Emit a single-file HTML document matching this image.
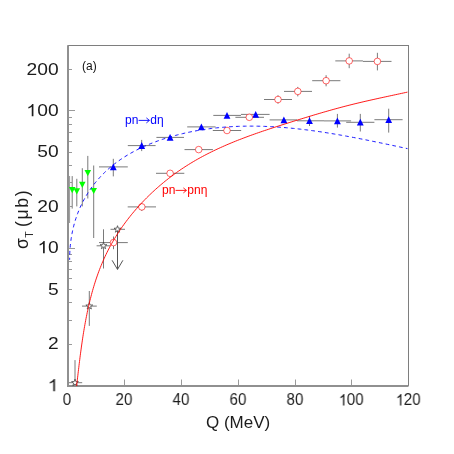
<!DOCTYPE html>
<html><head><meta charset="utf-8"><title>plot</title>
<style>
html,body{margin:0;padding:0;background:#fff;}
body{width:454px;height:454px;position:relative;overflow:hidden;font-family:"Liberation Sans",sans-serif;}
.yl{position:absolute;left:0;width:58.6px;height:20px;line-height:20px;text-align:right;font-size:17px;color:#1c1c1c;white-space:nowrap;transform:scaleX(1.13);transform-origin:100% 50%;will-change:transform;}
.xl{position:absolute;top:392.0px;width:60px;height:16px;line-height:16px;text-align:center;font-size:16px;color:#1c1c1c;white-space:nowrap;transform:scaleX(0.94);will-change:transform;}
.one{display:inline-block;width:0.556em;height:0.719em;vertical-align:baseline;overflow:visible;}
.lab{position:absolute;white-space:nowrap;line-height:1;will-change:transform;}
</style></head><body>
<svg width="454" height="454" viewBox="0 0 454 454" style="position:absolute;left:0;top:0">
<rect width="454" height="454" fill="#fff"/>
<line x1="68.50" y1="385.50" x2="75.00" y2="385.50" stroke="#9a9a9a" stroke-width="1"/>
<line x1="68.50" y1="344.50" x2="72.00" y2="344.50" stroke="#9a9a9a" stroke-width="1"/>
<line x1="68.50" y1="320.50" x2="72.00" y2="320.50" stroke="#9a9a9a" stroke-width="1"/>
<line x1="68.50" y1="302.50" x2="72.00" y2="302.50" stroke="#9a9a9a" stroke-width="1"/>
<line x1="68.50" y1="289.50" x2="72.00" y2="289.50" stroke="#9a9a9a" stroke-width="1"/>
<line x1="68.50" y1="278.50" x2="72.00" y2="278.50" stroke="#9a9a9a" stroke-width="1"/>
<line x1="68.50" y1="269.50" x2="72.00" y2="269.50" stroke="#9a9a9a" stroke-width="1"/>
<line x1="68.50" y1="261.50" x2="72.00" y2="261.50" stroke="#9a9a9a" stroke-width="1"/>
<line x1="68.50" y1="254.50" x2="72.00" y2="254.50" stroke="#9a9a9a" stroke-width="1"/>
<line x1="68.50" y1="248.50" x2="75.00" y2="248.50" stroke="#9a9a9a" stroke-width="1"/>
<line x1="68.50" y1="206.50" x2="72.00" y2="206.50" stroke="#9a9a9a" stroke-width="1"/>
<line x1="68.50" y1="182.50" x2="72.00" y2="182.50" stroke="#9a9a9a" stroke-width="1"/>
<line x1="68.50" y1="165.50" x2="72.00" y2="165.50" stroke="#9a9a9a" stroke-width="1"/>
<line x1="68.50" y1="152.50" x2="72.00" y2="152.50" stroke="#9a9a9a" stroke-width="1"/>
<line x1="68.50" y1="141.50" x2="72.00" y2="141.50" stroke="#9a9a9a" stroke-width="1"/>
<line x1="68.50" y1="132.50" x2="72.00" y2="132.50" stroke="#9a9a9a" stroke-width="1"/>
<line x1="68.50" y1="124.50" x2="72.00" y2="124.50" stroke="#9a9a9a" stroke-width="1"/>
<line x1="68.50" y1="117.50" x2="72.00" y2="117.50" stroke="#9a9a9a" stroke-width="1"/>
<line x1="68.50" y1="110.50" x2="75.00" y2="110.50" stroke="#9a9a9a" stroke-width="1"/>
<line x1="68.50" y1="69.50" x2="72.00" y2="69.50" stroke="#9a9a9a" stroke-width="1"/>
<line x1="67.50" y1="379.50" x2="67.50" y2="385.50" stroke="#9a9a9a" stroke-width="1"/>
<line x1="124.50" y1="379.50" x2="124.50" y2="385.50" stroke="#9a9a9a" stroke-width="1"/>
<line x1="181.50" y1="379.50" x2="181.50" y2="385.50" stroke="#9a9a9a" stroke-width="1"/>
<line x1="238.50" y1="379.50" x2="238.50" y2="385.50" stroke="#9a9a9a" stroke-width="1"/>
<line x1="295.50" y1="379.50" x2="295.50" y2="385.50" stroke="#9a9a9a" stroke-width="1"/>
<line x1="351.50" y1="379.50" x2="351.50" y2="385.50" stroke="#9a9a9a" stroke-width="1"/>
<line x1="408.50" y1="379.50" x2="408.50" y2="385.50" stroke="#9a9a9a" stroke-width="1"/>
<rect x="68.0" y="45.5" width="340.5" height="340.0" fill="none" stroke="#7e7e7e" stroke-width="1"/>
<line x1="68.00" y1="45.50" x2="68.00" y2="386.50" stroke="#909090" stroke-width="2"/>
<line x1="67.00" y1="386.00" x2="408.50" y2="386.00" stroke="#909090" stroke-width="2"/>
<line x1="69.50" y1="176.00" x2="69.50" y2="223.00" stroke="#a0a0a0" stroke-width="1.2"/>
<line x1="72.20" y1="176.10" x2="72.20" y2="208.60" stroke="#7a7a7a" stroke-width="1"/>
<line x1="76.80" y1="178.80" x2="76.80" y2="206.40" stroke="#7a7a7a" stroke-width="1"/>
<line x1="82.30" y1="168.20" x2="82.30" y2="206.40" stroke="#7a7a7a" stroke-width="1"/>
<line x1="87.80" y1="155.90" x2="87.80" y2="198.50" stroke="#7a7a7a" stroke-width="1"/>
<line x1="93.70" y1="165.50" x2="93.70" y2="238.00" stroke="#7a7a7a" stroke-width="1"/>
<line x1="99.00" y1="166.90" x2="127.80" y2="166.90" stroke="#7a7a7a" stroke-width="1"/>
<line x1="113.30" y1="158.80" x2="113.30" y2="176.40" stroke="#7a7a7a" stroke-width="1"/>
<line x1="127.80" y1="145.60" x2="155.60" y2="145.60" stroke="#7a7a7a" stroke-width="1"/>
<line x1="141.70" y1="139.90" x2="141.70" y2="151.10" stroke="#7a7a7a" stroke-width="1"/>
<line x1="156.40" y1="137.40" x2="184.00" y2="137.40" stroke="#7a7a7a" stroke-width="1"/>
<line x1="187.20" y1="126.90" x2="215.60" y2="126.90" stroke="#7a7a7a" stroke-width="1"/>
<line x1="213.30" y1="115.40" x2="241.00" y2="115.40" stroke="#7a7a7a" stroke-width="1"/>
<line x1="241.00" y1="114.40" x2="269.60" y2="114.40" stroke="#7a7a7a" stroke-width="1"/>
<line x1="269.60" y1="119.90" x2="297.00" y2="119.90" stroke="#7a7a7a" stroke-width="1"/>
<line x1="297.00" y1="120.80" x2="324.00" y2="120.80" stroke="#7a7a7a" stroke-width="1"/>
<line x1="309.50" y1="116.00" x2="309.50" y2="126.00" stroke="#7a7a7a" stroke-width="1"/>
<line x1="324.00" y1="120.90" x2="351.10" y2="120.90" stroke="#7a7a7a" stroke-width="1"/>
<line x1="337.40" y1="113.90" x2="337.40" y2="127.60" stroke="#7a7a7a" stroke-width="1"/>
<line x1="346.20" y1="122.30" x2="374.40" y2="122.30" stroke="#7a7a7a" stroke-width="1"/>
<line x1="360.30" y1="113.90" x2="360.30" y2="131.50" stroke="#7a7a7a" stroke-width="1"/>
<line x1="374.40" y1="119.70" x2="402.60" y2="119.70" stroke="#7a7a7a" stroke-width="1"/>
<line x1="388.70" y1="108.70" x2="388.70" y2="132.60" stroke="#7a7a7a" stroke-width="1"/>
<line x1="99.00" y1="242.60" x2="127.80" y2="242.60" stroke="#7a7a7a" stroke-width="1"/>
<line x1="113.50" y1="236.50" x2="113.50" y2="249.20" stroke="#7a7a7a" stroke-width="1"/>
<line x1="127.70" y1="206.90" x2="156.00" y2="206.90" stroke="#7a7a7a" stroke-width="1"/>
<line x1="141.80" y1="203.00" x2="141.80" y2="211.00" stroke="#7a7a7a" stroke-width="1"/>
<line x1="156.00" y1="173.30" x2="184.30" y2="173.30" stroke="#7a7a7a" stroke-width="1"/>
<line x1="184.50" y1="149.60" x2="212.90" y2="149.60" stroke="#7a7a7a" stroke-width="1"/>
<line x1="212.80" y1="130.50" x2="241.20" y2="130.50" stroke="#7a7a7a" stroke-width="1"/>
<line x1="235.40" y1="117.30" x2="264.00" y2="117.30" stroke="#7a7a7a" stroke-width="1"/>
<line x1="264.00" y1="99.50" x2="292.00" y2="99.50" stroke="#7a7a7a" stroke-width="1"/>
<line x1="278.00" y1="95.30" x2="278.00" y2="103.70" stroke="#7a7a7a" stroke-width="1"/>
<line x1="284.00" y1="91.40" x2="312.00" y2="91.40" stroke="#7a7a7a" stroke-width="1"/>
<line x1="297.80" y1="86.90" x2="297.80" y2="96.40" stroke="#7a7a7a" stroke-width="1"/>
<line x1="312.20" y1="80.70" x2="340.40" y2="80.70" stroke="#7a7a7a" stroke-width="1"/>
<line x1="326.10" y1="75.20" x2="326.10" y2="86.30" stroke="#7a7a7a" stroke-width="1"/>
<line x1="335.30" y1="60.90" x2="362.90" y2="60.90" stroke="#7a7a7a" stroke-width="1"/>
<line x1="349.20" y1="53.70" x2="349.20" y2="68.20" stroke="#7a7a7a" stroke-width="1"/>
<line x1="362.90" y1="61.40" x2="391.50" y2="61.40" stroke="#7a7a7a" stroke-width="1"/>
<line x1="377.40" y1="52.80" x2="377.40" y2="70.40" stroke="#7a7a7a" stroke-width="1"/>
<line x1="68.80" y1="382.70" x2="82.20" y2="382.70" stroke="#7a7a7a" stroke-width="1"/>
<line x1="75.00" y1="360.10" x2="75.00" y2="385.50" stroke="#7a7a7a" stroke-width="1"/>
<line x1="82.00" y1="306.10" x2="96.80" y2="306.10" stroke="#7a7a7a" stroke-width="1"/>
<line x1="89.30" y1="291.00" x2="89.30" y2="325.90" stroke="#7a7a7a" stroke-width="1"/>
<line x1="96.60" y1="245.80" x2="110.00" y2="245.80" stroke="#7a7a7a" stroke-width="1"/>
<line x1="103.50" y1="229.30" x2="103.50" y2="268.50" stroke="#7a7a7a" stroke-width="1"/>
<line x1="110.50" y1="229.30" x2="125.00" y2="229.30" stroke="#7a7a7a" stroke-width="1"/>
<line x1="117.50" y1="229.30" x2="117.50" y2="269.40" stroke="#555" stroke-width="1"/>
<path d="M112.1,260.3 L117.5,269.4 L122.9,260.3" fill="none" stroke="#555" stroke-width="1"/>
<path d="M68.90,187.00 L75.50,187.00 L72.20,193.20Z" fill="#00ff00"/>
<path d="M73.50,188.20 L80.10,188.20 L76.80,194.40Z" fill="#00ff00"/>
<path d="M79.00,181.70 L85.60,181.70 L82.30,187.90Z" fill="#00ff00"/>
<path d="M84.50,170.00 L91.10,170.00 L87.80,176.20Z" fill="#00ff00"/>
<path d="M90.40,187.90 L97.00,187.90 L93.70,194.10Z" fill="#00ff00"/>
<path d="M109.90,170.20 L116.70,170.20 L113.30,163.40Z" fill="#0000ff"/>
<path d="M138.30,148.90 L145.10,148.90 L141.70,142.10Z" fill="#0000ff"/>
<path d="M166.70,140.70 L173.50,140.70 L170.10,133.90Z" fill="#0000ff"/>
<path d="M198.00,130.20 L204.80,130.20 L201.40,123.40Z" fill="#0000ff"/>
<path d="M223.60,118.70 L230.40,118.70 L227.00,111.90Z" fill="#0000ff"/>
<path d="M252.30,117.70 L259.10,117.70 L255.70,110.90Z" fill="#0000ff"/>
<path d="M280.50,123.20 L287.30,123.20 L283.90,116.40Z" fill="#0000ff"/>
<path d="M306.10,124.10 L312.90,124.10 L309.50,117.30Z" fill="#0000ff"/>
<path d="M334.00,124.20 L340.80,124.20 L337.40,117.40Z" fill="#0000ff"/>
<path d="M356.90,125.60 L363.70,125.60 L360.30,118.80Z" fill="#0000ff"/>
<path d="M385.30,123.00 L392.10,123.00 L388.70,116.20Z" fill="#0000ff"/>
<circle cx="113.50" cy="242.60" r="3.3" fill="#fff" stroke="#ff0000" stroke-width="0.6"/>
<circle cx="141.80" cy="206.90" r="3.3" fill="#fff" stroke="#ff0000" stroke-width="0.6"/>
<circle cx="170.10" cy="173.30" r="3.3" fill="#fff" stroke="#ff0000" stroke-width="0.6"/>
<circle cx="198.70" cy="149.60" r="3.3" fill="#fff" stroke="#ff0000" stroke-width="0.6"/>
<circle cx="227.00" cy="130.50" r="3.3" fill="#fff" stroke="#ff0000" stroke-width="0.6"/>
<circle cx="249.30" cy="117.30" r="3.3" fill="#fff" stroke="#ff0000" stroke-width="0.6"/>
<circle cx="278.00" cy="99.50" r="3.3" fill="#fff" stroke="#ff0000" stroke-width="0.6"/>
<circle cx="297.80" cy="91.40" r="3.3" fill="#fff" stroke="#ff0000" stroke-width="0.6"/>
<circle cx="326.10" cy="80.70" r="3.3" fill="#fff" stroke="#ff0000" stroke-width="0.6"/>
<circle cx="349.20" cy="60.90" r="3.3" fill="#fff" stroke="#ff0000" stroke-width="0.6"/>
<circle cx="377.40" cy="61.40" r="3.3" fill="#fff" stroke="#ff0000" stroke-width="0.6"/>
<path d="M75.00,379.10 L75.82,381.57 L78.42,381.59 L76.33,383.13 L77.12,385.61 L75.00,384.10 L72.88,385.61 L73.67,383.13 L71.58,381.59 L74.18,381.57Z" fill="#fff" stroke="#333" stroke-width="0.7"/>
<path d="M89.30,302.50 L90.12,304.97 L92.72,304.99 L90.63,306.53 L91.42,309.01 L89.30,307.50 L87.18,309.01 L87.97,306.53 L85.88,304.99 L88.48,304.97Z" fill="#fff" stroke="#333" stroke-width="0.7"/>
<path d="M103.50,242.20 L104.32,244.67 L106.92,244.69 L104.83,246.23 L105.62,248.71 L103.50,247.20 L101.38,248.71 L102.17,246.23 L100.08,244.69 L102.68,244.67Z" fill="#fff" stroke="#333" stroke-width="0.7"/>
<path d="M117.50,225.70 L118.32,228.17 L120.92,228.19 L118.83,229.73 L119.62,232.21 L117.50,230.70 L115.38,232.21 L116.17,229.73 L114.08,228.19 L116.68,228.17Z" fill="#fff" stroke="#333" stroke-width="0.7"/>
<path d="M69.65,259.84 L69.66,258.06 L69.68,256.28 L69.73,254.51 L69.80,252.74 L69.90,250.97 L70.01,249.21 L70.15,247.45 L70.30,245.70 L70.48,243.96 L70.68,242.21 L70.91,240.48 L71.15,238.75 L71.42,237.02 L71.71,235.31 L72.02,233.60 L72.35,231.89 L72.71,230.20 L73.09,228.51 L73.50,226.83 L73.92,225.15 L74.37,223.49 L74.85,221.83 L75.34,220.19 L75.86,218.55 L76.41,216.92 L76.98,215.30 L77.57,213.70 L78.18,212.10 L78.82,210.51 L79.49,208.93 L80.17,207.37 L80.89,205.81 L81.62,204.27 L82.38,202.74 L83.16,201.22 L83.96,199.72 L84.79,198.23 L85.64,196.75 L86.51,195.28 L87.40,193.83 L88.31,192.39 L89.25,190.97 L90.20,189.56 L91.18,188.16 L92.17,186.78 L93.19,185.42 L94.23,184.07 L95.29,182.73 L96.36,181.42 L97.46,180.12 L98.58,178.83 L99.71,177.56 L100.87,176.31 L102.04,175.08 L103.23,173.87 L104.44,172.67 L105.66,171.49 L106.91,170.33 L108.17,169.19 L109.45,168.07 L110.74,166.96 L112.06,165.88 L113.38,164.81 L114.73,163.76 L116.09,162.73 L117.46,161.71 L118.85,160.72 L120.25,159.74 L121.67,158.78 L123.10,157.83 L124.54,156.90 L126.00,155.99 L127.46,155.10 L128.94,154.22 L130.44,153.36 L131.94,152.52 L133.46,151.69 L134.98,150.88 L136.52,150.08 L138.07,149.30 L139.62,148.54 L141.19,147.79 L142.77,147.05 L144.35,146.33 L145.94,145.63 L147.54,144.94 L149.15,144.27 L150.77,143.61 L152.39,142.96 L154.02,142.33 L155.66,141.72 L157.30,141.11 L158.95,140.52 L160.60,139.95 L162.26,139.39 L163.93,138.84 L165.59,138.31 L167.27,137.79 L168.94,137.28 L170.62,136.79 L172.30,136.30 L173.99,135.83 L175.67,135.38 L177.36,134.93 L179.05,134.50 L180.74,134.08 L182.44,133.68 L184.13,133.28 L185.83,132.90 L187.52,132.52 L189.22,132.16 L190.91,131.81 L192.61,131.48 L194.31,131.15 L196.01,130.83 L197.71,130.53 L199.41,130.24 L201.11,129.95 L202.81,129.68 L204.52,129.42 L206.22,129.17 L207.92,128.93 L209.63,128.70 L211.33,128.49 L213.04,128.28 L214.75,128.08 L216.45,127.89 L218.16,127.72 L219.87,127.55 L221.58,127.39 L223.29,127.24 L225.00,127.10 L226.71,126.97 L228.42,126.85 L230.13,126.74 L231.84,126.64 L233.55,126.55 L235.26,126.47 L236.98,126.40 L238.69,126.33 L240.40,126.28 L242.12,126.23 L243.83,126.19 L245.55,126.16 L247.26,126.14 L248.98,126.13 L250.69,126.12 L252.41,126.13 L254.12,126.14 L255.84,126.16 L257.55,126.18 L259.27,126.22 L260.99,126.26 L262.70,126.31 L264.42,126.37 L266.14,126.44 L267.85,126.51 L269.57,126.59 L271.29,126.68 L273.01,126.77 L274.72,126.87 L276.44,126.98 L278.16,127.10 L279.87,127.22 L281.59,127.35 L283.31,127.48 L285.03,127.62 L286.74,127.77 L288.46,127.92 L290.18,128.08 L291.89,128.25 L293.61,128.42 L295.33,128.60 L297.04,128.78 L298.76,128.97 L300.47,129.16 L302.19,129.37 L303.91,129.57 L305.62,129.78 L307.34,130.00 L309.05,130.22 L310.76,130.45 L312.48,130.68 L314.19,130.91 L315.91,131.15 L317.62,131.40 L319.33,131.65 L321.04,131.90 L322.76,132.16 L324.47,132.43 L326.18,132.69 L327.89,132.96 L329.60,133.24 L331.31,133.52 L333.02,133.80 L334.73,134.09 L336.43,134.38 L338.14,134.67 L339.85,134.97 L341.55,135.27 L343.26,135.58 L344.97,135.88 L346.67,136.19 L348.37,136.51 L350.08,136.82 L351.78,137.14 L353.48,137.46 L355.18,137.79 L356.88,138.11 L358.58,138.44 L360.28,138.78 L361.98,139.11 L363.68,139.45 L365.37,139.78 L367.07,140.12 L368.77,140.47 L370.46,140.81 L372.15,141.15 L373.84,141.50 L375.54,141.85 L377.23,142.20 L378.92,142.55 L380.61,142.90 L382.29,143.26 L383.98,143.61 L385.67,143.97 L387.35,144.32 L389.03,144.68 L390.72,145.04 L392.40,145.40 L394.08,145.76 L395.76,146.12 L397.44,146.47 L399.12,146.83 L400.79,147.19 L402.47,147.55 L404.14,147.91 L405.81,148.27 L407.49,148.63" fill="none" stroke="#0000ff" stroke-width="0.9" stroke-dasharray="3.7 3.17" stroke-dashoffset="1.6"/>
<path d="M76.60,386.02 L76.84,383.98 L77.08,381.93 L77.32,379.88 L77.56,377.83 L77.80,375.78 L78.04,373.73 L78.28,371.68 L78.52,369.63 L78.77,367.57 L79.01,365.52 L79.26,363.47 L79.52,361.41 L79.77,359.36 L80.03,357.30 L80.29,355.25 L80.56,353.20 L80.83,351.14 L81.11,349.09 L81.39,347.04 L81.68,344.99 L81.97,342.94 L82.27,340.90 L82.57,338.85 L82.88,336.81 L83.20,334.76 L83.53,332.72 L83.86,330.69 L84.20,328.65 L84.55,326.62 L84.91,324.59 L85.27,322.56 L85.65,320.54 L86.03,318.51 L86.43,316.50 L86.83,314.48 L87.24,312.47 L87.67,310.46 L88.10,308.46 L88.55,306.46 L89.01,304.46 L89.48,302.47 L89.96,300.48 L90.46,298.50 L90.97,296.52 L91.49,294.55 L92.02,292.58 L92.57,290.61 L93.13,288.66 L93.71,286.70 L94.30,284.76 L94.91,282.82 L95.53,280.88 L96.16,278.95 L96.82,277.03 L97.49,275.11 L98.17,273.20 L98.87,271.30 L99.59,269.40 L100.33,267.51 L101.08,265.63 L101.86,263.75 L102.65,261.89 L103.46,260.02 L104.29,258.17 L105.14,256.33 L106.00,254.49 L106.89,252.66 L107.80,250.84 L108.73,249.03 L109.68,247.23 L110.65,245.43 L111.64,243.65 L112.65,241.87 L113.68,240.10 L114.73,238.34 L115.79,236.59 L116.88,234.86 L117.99,233.13 L119.12,231.41 L120.26,229.70 L121.42,228.00 L122.60,226.31 L123.80,224.63 L125.02,222.96 L126.25,221.31 L127.50,219.66 L128.76,218.03 L130.05,216.41 L131.34,214.79 L132.66,213.19 L133.99,211.61 L135.33,210.03 L136.69,208.46 L138.07,206.91 L139.46,205.37 L140.86,203.85 L142.28,202.33 L143.72,200.83 L145.16,199.34 L146.62,197.86 L148.10,196.40 L149.58,194.95 L151.08,193.52 L152.59,192.10 L154.12,190.69 L155.65,189.29 L157.20,187.91 L158.76,186.55 L160.33,185.20 L161.91,183.86 L163.50,182.54 L165.10,181.23 L166.72,179.94 L168.34,178.66 L169.97,177.40 L171.61,176.16 L173.26,174.93 L174.92,173.71 L176.59,172.51 L178.27,171.33 L179.96,170.16 L181.65,169.01 L183.35,167.88 L185.06,166.76 L186.78,165.66 L188.50,164.58 L190.23,163.51 L191.97,162.46 L193.72,161.42 L195.47,160.40 L197.23,159.39 L198.99,158.40 L200.77,157.42 L202.54,156.46 L204.33,155.51 L206.12,154.57 L207.92,153.64 L209.73,152.73 L211.54,151.83 L213.35,150.95 L215.18,150.07 L217.01,149.21 L218.84,148.36 L220.68,147.52 L222.53,146.69 L224.38,145.87 L226.23,145.06 L228.10,144.26 L229.96,143.47 L231.83,142.70 L233.71,141.93 L235.59,141.17 L237.48,140.41 L239.37,139.67 L241.27,138.94 L243.17,138.21 L245.07,137.49 L246.98,136.78 L248.90,136.07 L250.81,135.37 L252.74,134.68 L254.66,134.00 L256.59,133.32 L258.53,132.64 L260.46,131.97 L262.40,131.31 L264.35,130.65 L266.30,130.00 L268.25,129.35 L270.20,128.70 L272.16,128.06 L274.12,127.42 L276.08,126.79 L278.05,126.16 L280.02,125.53 L281.99,124.90 L283.96,124.28 L285.94,123.65 L287.92,123.03 L289.90,122.41 L291.88,121.79 L293.87,121.17 L295.86,120.56 L297.85,119.94 L299.84,119.32 L301.83,118.71 L303.83,118.10 L305.82,117.49 L307.82,116.88 L309.82,116.28 L311.82,115.67 L313.82,115.07 L315.82,114.48 L317.83,113.88 L319.83,113.29 L321.83,112.71 L323.84,112.12 L325.85,111.55 L327.85,110.97 L329.86,110.40 L331.87,109.84 L333.88,109.28 L335.88,108.73 L337.89,108.18 L339.90,107.64 L341.91,107.10 L343.91,106.57 L345.92,106.05 L347.93,105.54 L349.93,105.03 L351.94,104.53 L353.94,104.03 L355.95,103.54 L357.95,103.06 L359.95,102.58 L361.95,102.11 L363.95,101.64 L365.95,101.18 L367.95,100.72 L369.94,100.27 L371.94,99.82 L373.93,99.38 L375.92,98.94 L377.91,98.50 L379.89,98.06 L381.88,97.63 L383.86,97.20 L385.84,96.77 L387.82,96.35 L389.79,95.92 L391.77,95.50 L393.74,95.07 L395.70,94.65 L397.67,94.23 L399.63,93.81 L401.59,93.39 L403.55,92.96 L405.50,92.54 L407.45,92.11" fill="none" stroke="#ff0000" stroke-width="0.9"/>
</svg>
<div class="yl" style="top:59.67px">200</div>
<div class="yl" style="top:100.99px"><svg class="one" viewBox="0 -1472 1139 1472" preserveAspectRatio="none"><path d="M763 0H583V-1147Q518 -1085 412.500 -1023Q307 -961 223 -930V-1104Q374 -1175 487 -1276Q600 -1377 647 -1472H763Z" fill="currentColor"/></svg>00</div>
<div class="yl" style="top:142.31px">50</div>
<div class="yl" style="top:196.93px">20</div>
<div class="yl" style="top:238.24px"><svg class="one" viewBox="0 -1472 1139 1472" preserveAspectRatio="none"><path d="M763 0H583V-1147Q518 -1085 412.500 -1023Q307 -961 223 -930V-1104Q374 -1175 487 -1276Q600 -1377 647 -1472H763Z" fill="currentColor"/></svg>0</div>
<div class="yl" style="top:279.56px">5</div>
<div class="yl" style="top:334.18px">2</div>
<div class="yl" style="top:375.50px"><svg class="one" viewBox="0 -1472 1139 1472" preserveAspectRatio="none"><path d="M763 0H583V-1147Q518 -1085 412.500 -1023Q307 -961 223 -930V-1104Q374 -1175 487 -1276Q600 -1377 647 -1472H763Z" fill="currentColor"/></svg></div>
<div class="xl" style="left:37.30px">0</div>
<div class="xl" style="left:94.10px">20</div>
<div class="xl" style="left:150.90px">40</div>
<div class="xl" style="left:207.70px">60</div>
<div class="xl" style="left:264.50px">80</div>
<div class="xl" style="left:321.30px"><svg class="one" viewBox="0 -1472 1139 1472" preserveAspectRatio="none"><path d="M763 0H583V-1147Q518 -1085 412.500 -1023Q307 -961 223 -930V-1104Q374 -1175 487 -1276Q600 -1377 647 -1472H763Z" fill="currentColor"/></svg>00</div>
<div class="xl" style="left:378.10px"><svg class="one" viewBox="0 -1472 1139 1472" preserveAspectRatio="none"><path d="M763 0H583V-1147Q518 -1085 412.500 -1023Q307 -961 223 -930V-1104Q374 -1175 487 -1276Q600 -1377 647 -1472H763Z" fill="currentColor"/></svg>20</div>
<div class="lab" style="left:82.1px;top:59.7px;font-size:12px;color:#111;">(a)</div>
<div class="lab" style="left:125.2px;top:113.5px;font-size:12px;color:#0000ff;">pn<svg width="12" height="8" viewBox="0 0 12 8" style="display:inline-block;vertical-align:baseline;overflow:visible"><path d="M0.6,4.4 H11.4 M8.4,1.9 L11.4,4.4 L8.4,6.9" fill="none" stroke="currentColor" stroke-width="0.9"/></svg>d&eta;</div>
<div class="lab" style="left:161.9px;top:183.5px;font-size:12px;color:#ff0000;">pn<svg width="12" height="8" viewBox="0 0 12 8" style="display:inline-block;vertical-align:baseline;overflow:visible"><path d="M0.6,4.4 H11.4 M8.4,1.9 L11.4,4.4 L8.4,6.9" fill="none" stroke="currentColor" stroke-width="0.9"/></svg>pn&eta;</div>
<div class="lab" style="left:205.8px;top:414.0px;font-size:17px;color:#1c1c1c;letter-spacing:0px;">Q (MeV)</div>
<div class="lab" id="yt" style="left:13.9px;top:248.9px;font-size:17.6px;color:#1c1c1c;letter-spacing:0.5px;transform-origin:0 0;transform:rotate(-90deg);">&sigma;<span style="font-size:10.5px;position:relative;top:4.5px;">T</span><span style="letter-spacing:1.7px;margin-left:3.6px;">(&mu;b)</span></div>
</body></html>
